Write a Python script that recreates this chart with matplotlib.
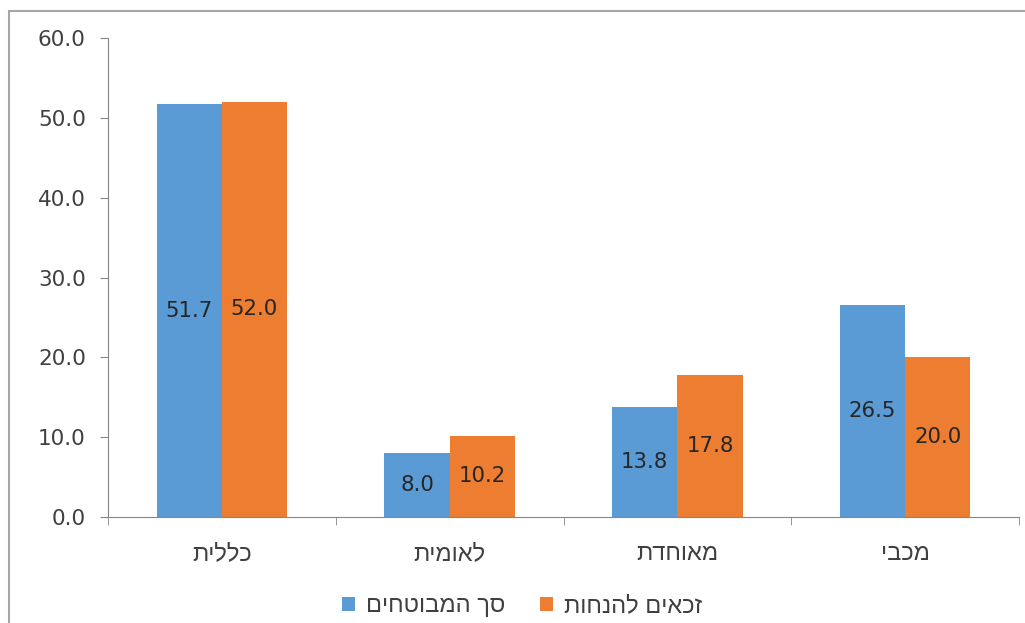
import numpy as np
import matplotlib.pyplot as plt
from matplotlib.patches import Rectangle

# ========================
# Dados
# ========================
categorias = ["כללית", "לאומית", "מאוחדת", "מכבי"]
serie_nomes = ["סך המבוטחים", "זכאים להנחות"]
total_mbt = [51.7, 8.0, 13.8, 26.5]
zakaim = [52.0, 10.2, 17.8, 20.0]
y_ticks = [0, 10, 20, 30, 40, 50, 60]

azul = "#5B9BD5"
laranja = "#ED7D31"
cinza = "#868686"
fonte_heb = ["Liberation Sans", "DejaVu Sans"]


def heb(s):
    # matplotlib nao faz bidi: inverte a ordem para exibir direito
    return s[::-1]


plt.rcParams['font.family'] = ['DejaVu Sans']

fig = plt.figure(figsize=(10.25, 6.23), dpi=100)
ax = fig.add_axes([108 / 1025, 1 - 517 / 623, (1019 - 108) / 1025, (517 - 38) / 623])

x = np.arange(len(categorias))
w = 0.286
b1 = ax.bar(x - w / 2, total_mbt, w, color=azul, label=heb(serie_nomes[0]))
b2 = ax.bar(x + w / 2, zakaim, w, color=laranja, label=heb(serie_nomes[1]))

for barras, vals in [(b1, total_mbt), (b2, zakaim)]:
    for r, v in zip(barras, vals):
        ax.text(r.get_x() + r.get_width() / 2, v / 2, f"{v:.1f}",
                ha="center", va="center", fontsize=15.3, color="#262626")

ax.set_xlim(-0.5, len(categorias) - 0.5)
ax.set_ylim(0, 60)
ax.set_yticks(y_ticks)
ax.set_yticklabels([f"{t:.1f}" for t in y_ticks])

ax.set_xticks(x)
ax.set_xticklabels([heb(c) for c in categorias], family=fonte_heb, fontsize=17)
ax.set_xticks(np.arange(len(categorias) + 1) - 0.5, minor=True)
ax.tick_params(axis="x", which="major", length=0, pad=19, labelcolor="#404040")
ax.tick_params(axis="x", which="minor", length=6, direction="out", color=cinza)
ax.tick_params(axis="y", length=6, direction="out", color=cinza, pad=10,
               labelsize=15.5, labelcolor="#404040")

for s in ["top", "right"]:
    ax.spines[s].set_visible(False)
for s in ["left", "bottom"]:
    ax.spines[s].set_color(cinza)

leg = fig.legend(loc="center", bbox_to_anchor=(522 / 1025, 1 - 606 / 623), ncol=2,
                 frameon=False, prop={"family": fonte_heb, "size": 17},
                 handlelength=0.55, handleheight=0.55,
                 handletextpad=0.45, columnspacing=1.5)
for t in leg.get_texts():
    t.set_color("#404040")

# moldura do grafico
fig.add_artist(Rectangle((9 / 1025, -0.1), 2, 1 - 11 / 623 + 0.1,
                         transform=fig.transFigure, fill=False,
                         edgecolor="#a6a6a6", linewidth=1.5))

fig.savefig("out.png", dpi=100)
